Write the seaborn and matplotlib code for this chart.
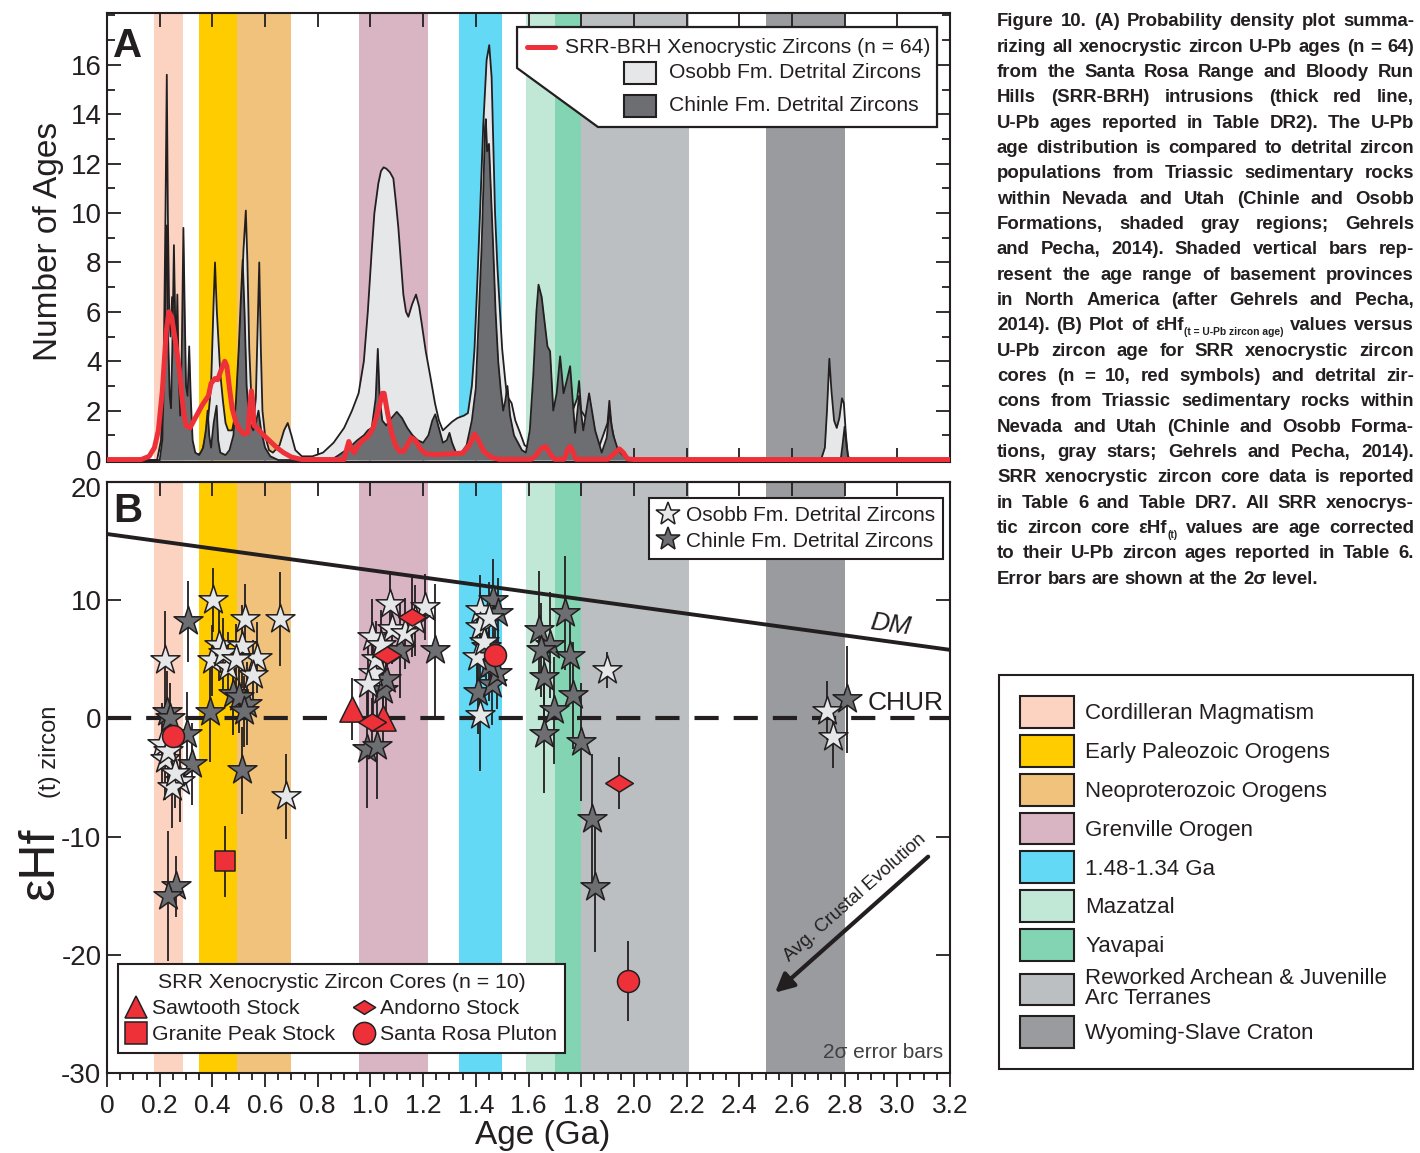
import matplotlib
matplotlib.use("Agg")
import numpy as np
import pandas as pd
import seaborn as sns
import matplotlib.pyplot as plt
from matplotlib.lines import Line2D
from matplotlib.patches import Patch, Polygon, Rectangle
from matplotlib.ticker import MultipleLocator, NullLocator
from matplotlib.transforms import ScaledTranslation
from matplotlib import font_manager

W_PX, H_PX = 1420, 1153
EDGE = "#231F20"
LIGHT = "#E6E7E8"
DARK = "#6D6E71"
RED = "#EE3139"

# basement provinces of North America (age ranges, Ga)
prov_names = ["Cordilleran Magmatism", "Early Paleozoic Orogens", "Neoproterozoic Orogens",
              "Grenville Orogen", "1.48-1.34 Ga", "Mazatzal", "Yavapai",
              "Reworked Archean & Juvenille\nArc Terranes", "Wyoming-Slave Craton"]
prov_start = [0.18, 0.35, 0.495, 0.955, 1.335, 1.59, 1.70, 1.80, 2.50]
prov_end = [0.29, 0.495, 0.70, 1.22, 1.50, 1.70, 1.80, 2.21, 2.80]
prov_colors = ["#FCD3C1", "#FFCC00", "#F0C27B", "#D9B4C2", "#63D9F6",
               "#C1E8D6", "#83D4B2", "#BCBFC2", "#999B9E"]

# panel A: probability density curves (age Ga, number of ages)
osobb_pdp = [(0.0, 0), (0.19, 0), (0.205, 0.8), (0.215, 3.5), (0.222, 10), (0.227, 15.6),
             (0.231, 10), (0.236, 6), (0.241, 5.0), (0.247, 6.6), (0.253, 4.0), (0.26, 2.5),
             (0.27, 1.8), (0.28, 1.5), (0.30, 1.0), (0.32, 0.5), (0.34, 0.2), (0.36, 0.3),
             (0.38, 1.2), (0.395, 3.0), (0.405, 6.5), (0.41, 8.0), (0.417, 6.0), (0.43, 3.5),
             (0.44, 2.4), (0.45, 1.5), (0.46, 1.2), (0.475, 1.2), (0.49, 2.0), (0.505, 5.0),
             (0.518, 8.5), (0.527, 10.1), (0.533, 8.0), (0.54, 4.5), (0.548, 2.5), (0.556, 1.6),
             (0.565, 2.5), (0.572, 5.5), (0.578, 8.0), (0.584, 4.5), (0.59, 2.0), (0.60, 1.0),
             (0.615, 0.4), (0.63, 0.3), (0.655, 0.6), (0.672, 1.2), (0.686, 1.5), (0.70, 1.0),
             (0.715, 0.4), (0.74, 0.15), (0.78, 0.15), (0.82, 0.3), (0.86, 0.7), (0.90, 1.3),
             (0.93, 2.0), (0.955, 2.7), (0.975, 4.0), (0.99, 6.0), (1.005, 8.5), (1.015, 10.0),
             (1.03, 11.2), (1.04, 11.7), (1.05, 11.85), (1.06, 11.8), (1.074, 11.65),
             (1.087, 11.4), (1.097, 10.4), (1.106, 9.4), (1.116, 8.0), (1.125, 6.7),
             (1.135, 6.0), (1.144, 5.8), (1.158, 6.3), (1.173, 6.7), (1.185, 6.2), (1.195, 5.5),
             (1.21, 4.4), (1.227, 3.4), (1.245, 2.3), (1.26, 1.6), (1.275, 1.2), (1.29, 1.35),
             (1.31, 1.55), (1.33, 1.7), (1.355, 1.8), (1.37, 1.9), (1.385, 3.0), (1.395, 4.5),
             (1.405, 7.0), (1.416, 10.0), (1.428, 13.5), (1.441, 16.2), (1.451, 16.8),
             (1.46, 15.5), (1.466, 13.0), (1.473, 10.0), (1.482, 7.8), (1.492, 6.0), (1.50, 4.5),
             (1.511, 3.3), (1.518, 2.6), (1.536, 2.3), (1.55, 1.6), (1.568, 1.1), (1.585, 0.6),
             (1.60, 0.5), (1.62, 1.0), (1.66, 1.4), (1.70, 1.2), (1.75, 1.5), (1.785, 2.5),
             (1.792, 3.2), (1.80, 2.0), (1.83, 1.5), (1.87, 0.6), (1.90, 1.5), (1.907, 2.4),
             (1.915, 1.4), (1.93, 0.6), (1.95, 0.25), (1.98, 0.05), (2.0, 0), (2.71, 0),
             (2.725, 0.5), (2.733, 2.0), (2.742, 4.1), (2.75, 2.8), (2.76, 1.6), (2.77, 1.3),
             (2.78, 1.7), (2.79, 2.5), (2.797, 2.3), (2.805, 1.0), (2.812, 0.2), (2.82, 0),
             (3.2, 0)]
chinle_pdp = [(0.0, 0), (0.20, 0), (0.21, 0.8), (0.218, 4.0), (0.223, 8.0), (0.227, 9.5),
              (0.232, 5.0), (0.238, 2.6), (0.243, 2.1), (0.248, 4.5), (0.254, 8.7), (0.259, 5.5),
              (0.263, 4.5), (0.267, 6.7), (0.272, 3.5), (0.278, 1.8), (0.284, 4.5), (0.29, 9.4),
              (0.295, 6.0), (0.30, 3.0), (0.306, 2.6), (0.312, 4.6), (0.318, 2.5), (0.325, 0.8),
              (0.335, 0.3), (0.35, 0.2), (0.365, 0.5), (0.375, 1.2), (0.382, 2.0), (0.388, 1.0),
              (0.395, 0.5), (0.405, 1.5), (0.416, 2.2), (0.422, 0.8), (0.43, 0.3), (0.45, 0.2),
              (0.465, 0.4), (0.48, 1.0), (0.49, 2.5), (0.50, 4.5), (0.508, 6.5), (0.515, 8.1),
              (0.522, 6.0), (0.53, 3.0), (0.54, 1.6), (0.555, 1.2), (0.565, 1.5), (0.575, 2.0),
              (0.585, 1.2), (0.60, 0.5), (0.62, 0.15), (0.65, 0), (0.85, 0), (0.88, 0.2),
              (0.92, 0.5), (0.95, 0.8), (0.975, 1.0), (0.99, 1.2), (1.005, 1.3), (1.02, 2.5),
              (1.028, 4.5), (1.035, 2.5), (1.045, 1.6), (1.06, 1.4), (1.08, 1.7), (1.10, 1.95),
              (1.12, 1.7), (1.14, 1.3), (1.16, 1.0), (1.18, 0.8), (1.20, 0.7), (1.22, 1.0),
              (1.235, 1.6), (1.246, 1.85), (1.26, 1.3), (1.275, 0.7), (1.29, 0.8), (1.30, 1.1),
              (1.31, 0.7), (1.325, 0.3), (1.345, 0.3), (1.365, 0.6), (1.385, 1.6), (1.40, 2.9),
              (1.412, 6.0), (1.422, 8.6), (1.43, 11.5), (1.435, 13.5), (1.438, 13.8),
              (1.443, 12.5), (1.45, 12.8), (1.455, 11.5), (1.466, 8.6), (1.475, 6.0),
              (1.485, 4.0), (1.495, 2.8), (1.504, 2.0), (1.512, 2.4), (1.52, 3.0), (1.53, 1.8),
              (1.545, 1.0), (1.555, 0.8), (1.575, 0.4), (1.59, 0.3), (1.605, 1.2), (1.618, 3.4),
              (1.63, 6.0), (1.638, 7.1), (1.65, 6.6), (1.663, 5.4), (1.672, 4.6), (1.682, 4.4),
              (1.694, 2.0), (1.707, 2.7), (1.72, 4.2), (1.733, 2.7), (1.745, 3.2), (1.758, 3.8),
              (1.777, 1.1), (1.792, 2.6), (1.808, 1.2), (1.83, 2.7), (1.853, 1.2), (1.878, 0.3),
              (1.897, 0.9), (1.907, 2.0), (1.916, 1.35), (1.922, 1.0), (1.94, 0.4),
              (1.967, 0.1), (1.99, 0), (2.785, 0), (2.792, 0.6), (2.80, 1.35), (2.807, 0.6),
              (2.815, 0), (3.2, 0)]
srr_pdp = [(0.0, 0.02), (0.13, 0.02), (0.16, 0.15), (0.18, 0.5), (0.195, 1.2), (0.21, 2.8),
           (0.225, 5.2), (0.235, 6.0), (0.245, 5.8), (0.26, 4.8), (0.275, 3.6), (0.29, 2.0),
           (0.30, 1.4), (0.315, 1.3), (0.335, 1.7), (0.36, 2.2), (0.385, 2.6), (0.395, 3.1),
           (0.41, 3.3), (0.42, 3.25), (0.435, 3.7), (0.447, 4.0), (0.455, 3.8), (0.465, 2.9),
           (0.475, 2.1), (0.49, 1.5), (0.505, 1.2), (0.52, 1.05), (0.535, 1.1), (0.542, 2.2),
           (0.548, 2.8), (0.553, 2.4), (0.558, 1.4), (0.57, 1.3), (0.59, 1.05), (0.62, 0.75),
           (0.645, 0.5), (0.67, 0.3), (0.70, 0.12), (0.74, 0.02), (0.90, 0.02), (0.91, 0.45),
           (0.918, 0.75), (0.928, 0.45), (0.938, 0.3), (0.95, 0.55), (0.97, 0.8), (0.99, 0.95),
           (1.01, 1.3), (1.03, 2.0), (1.045, 2.7), (1.052, 2.7), (1.065, 1.9), (1.08, 1.1),
           (1.095, 0.6), (1.11, 0.35), (1.125, 0.35), (1.14, 0.6), (1.155, 0.9), (1.17, 0.8),
           (1.19, 0.45), (1.21, 0.25), (1.25, 0.22), (1.30, 0.25), (1.35, 0.28), (1.375, 0.6),
           (1.395, 1.05), (1.41, 0.8), (1.43, 0.35), (1.46, 0.1), (1.49, 0.03), (1.61, 0.03),
           (1.63, 0.2), (1.645, 0.45), (1.665, 0.55), (1.685, 0.2), (1.70, 0.03), (1.735, 0.03),
           (1.748, 0.4), (1.758, 0.55), (1.768, 0.35), (1.78, 0.03), (1.90, 0.03), (1.925, 0.25),
           (1.945, 0.45), (1.96, 0.3), (1.975, 0.05), (2.0, 0.02), (3.2, 0.02)]

# panel B: eHf(t) vs age (age Ga, eHf, 2 sigma)
osobb_hf = [(0.220, 4.9, 4.2), (0.208, -2.2, 3.5), (0.220, -3.4, 3.5), (0.232, -2.8, 3.0),
            (0.277, -5.3, 3.5), (0.245, -5.8, 3.5), (0.258, -4.6, 3.0), (0.401, 10.0, 2.7),
            (0.524, 8.4, 3.0), (0.657, 8.4, 4.0), (0.425, 6.2, 3.0), (0.511, 6.1, 3.5),
            (0.397, 4.9, 3.0), (0.461, 4.35, 3.0), (0.568, 5.15, 3.0), (0.556, 3.65, 3.0),
            (0.44, 5.5, 3.0), (0.49, 5.0, 3.0), (0.680, -6.6, 3.6), (1.074, 9.7, 2.8),
            (1.207, 9.4, 2.8), (1.081, 7.6, 3.0), (1.131, 7.2, 3.0), (1.169, 8.3, 3.0),
            (1.005, 6.9, 3.2), (1.011, 3.8, 3.5), (0.992, 2.9, 3.5), (1.02, 5.0, 3.2),
            (1.04, 6.2, 3.0), (1.416, 9.15, 3.0), (1.416, 7.7, 3.0), (1.404, 5.2, 3.5),
            (1.43, 6.5, 3.0), (1.416, 0.25, 4.7), (1.45, 8.5, 3.0), (1.897, 4.1, 1.5),
            (2.732, 0.66, 2.5), (2.757, -1.6, 2.6)]
chinle_hf = [(0.309, 8.2, 3.4), (0.227, 0.55, 3.5), (0.24, 0.0, 3.0), (0.391, 0.55, 4.2),
             (0.48, 2.1, 3.5), (0.53, 1.25, 3.5), (0.50, 1.8, 3.0), (0.52, 0.6, 3.0),
             (0.303, -1.3, 3.5), (0.321, -3.85, 3.5), (0.511, -4.4, 3.7), (0.262, -14.2, 2.6),
             (0.233, -15.0, 5.5), (1.245, 5.76, 5.6), (1.112, 5.76, 4.0), (1.049, 2.4, 3.5),
             (0.986, -2.6, 5.0), (1.024, -2.3, 4.5), (1.06, 3.3, 3.0), (1.467, 10.0, 3.5),
             (1.486, 8.9, 3.0), (1.41, 2.2, 3.5), (1.46, 2.9, 3.5), (1.48, 3.8, 3.0),
             (1.45, 4.5, 3.0), (1.44, 6.0, 3.0), (1.638, 7.45, 5.0), (1.739, 8.9, 4.8),
             (1.682, 6.2, 4.5), (1.758, 5.3, 4.0), (1.657, 3.5, 4.0), (1.770, 1.95, 4.5),
             (1.695, 0.68, 4.5), (1.657, -1.3, 5.0), (1.80, -2.0, 5.0), (1.84, -8.5, 5.5),
             (1.853, -14.3, 5.5), (1.648, 5.8, 4.0), (2.808, 1.6, 4.5)]
stock_names = ["Sawtooth Stock", "Granite Peak Stock", "Andorno Stock", "Santa Rosa Pluton"]
srr_stock = ["Sawtooth Stock", "Sawtooth Stock", "Granite Peak Stock", "Andorno Stock",
             "Andorno Stock", "Andorno Stock", "Andorno Stock", "Santa Rosa Pluton",
             "Santa Rosa Pluton", "Santa Rosa Pluton"]
srr_hf_age = [0.929, 1.049, 0.448, 1.005, 1.062, 1.157, 1.945, 0.249, 1.473, 1.978]
srr_hf = [0.8, 0.0, -12.1, -0.3, 5.4, 8.6, -5.45, -1.5, 5.4, -22.2]
srr_hf_err = [2.6, 2.5, 3.0, 2.0, 2.5, 3.4, 2.2, 2.0, 2.5, 3.4]
dm_age = [0.0, 3.2]
dm_hf = [15.6, 5.8]

caption_lines = [
    "Figure 10. (A) Probability density plot summa-",
    "rizing all xenocrystic zircon U-Pb ages (n = 64)",
    "from the Santa Rosa Range and Bloody Run",
    "Hills (SRR-BRH) intrusions (thick red line,",
    "U-Pb ages reported in Table DR2). The U-Pb",
    "age distribution is compared to detrital zircon",
    "populations from Triassic sedimentary rocks",
    "within Nevada and Utah (Chinle and Osobb",
    "Formations, shaded gray regions; Gehrels",
    "and Pecha, 2014). Shaded vertical bars rep-",
    "resent the age range of basement provinces",
    "in North America (after Gehrels and Pecha,",
    ["2014).", "(B)", "Plot", "of", ("εHf", "(t = U-Pb zircon age)"), "values", "versus"],
    "U-Pb zircon age for SRR xenocrystic zircon",
    "cores (n = 10, red symbols) and detrital zir-",
    "cons from Triassic sedimentary rocks within",
    "Nevada and Utah (Chinle and Osobb Forma-",
    "tions, gray stars; Gehrels and Pecha, 2014).",
    "SRR xenocrystic zircon core data is reported",
    "in Table 6 and Table DR7. All SRR xenocrys-",
    ["tic", "zircon", "core", ("εHf", "(t)"), "values", "are", "age", "corrected"],
    "to their U-Pb zircon ages reported in Table 6.",
    "Error bars are shown at the 2σ level.",
]

osobb_age, osobb_n = map(list, zip(*osobb_pdp))
chinle_age, chinle_n = map(list, zip(*chinle_pdp))
srr_age, srr_n = map(list, zip(*srr_pdp))
osobb_df = pd.DataFrame(osobb_hf, columns=["age", "hf", "err"])
chinle_df = pd.DataFrame(chinle_hf, columns=["age", "hf", "err"])
srr_df = pd.DataFrame({"age": srr_hf_age, "hf": srr_hf, "err": srr_hf_err, "stock": srr_stock})


def has_font(name):
    try:
        font_manager.findfont(font_manager.FontProperties(family=name), fallback_to_default=False)
        return True
    except ValueError:
        return False


CAP_FAMILY = "Liberation Sans Narrow" if has_font("Liberation Sans Narrow") else "Liberation Sans"

sns.set_style("ticks")
plt.rcParams["font.family"] = ["Liberation Sans", "DejaVu Sans"]
plt.rcParams["axes.unicode_minus"] = False
plt.rcParams["axes.linewidth"] = 1.5
plt.rcParams["axes.edgecolor"] = EDGE
for k in ["text.color", "axes.labelcolor", "xtick.color", "ytick.color"]:
    plt.rcParams[k] = EDGE

fig = plt.figure(figsize=(14.2, 11.53), dpi=100)


def px_axes(l, t, r, b):
    return fig.add_axes([l / W_PX, 1 - b / H_PX, (r - l) / W_PX, (b - t) / H_PX])


axA = px_axes(107, 13, 950, 462)
axB = px_axes(107, 482, 950, 1073)
for ax in (axA, axB):
    for s, e, c in zip(prov_start, prov_end, prov_colors):
        ax.axvspan(s, e, color=c, lw=0, zorder=0)

# ---------- panel A ----------
axA.fill_between(osobb_age, osobb_n, 0, color=LIGHT, lw=0, zorder=2)
sns.lineplot(x=osobb_age, y=osobb_n, ax=axA, color=EDGE, lw=1.3, sort=False, estimator=None, zorder=3)
axA.fill_between(chinle_age, chinle_n, 0, color=DARK, lw=0, zorder=4)
sns.lineplot(x=chinle_age, y=chinle_n, ax=axA, color=EDGE, lw=1.3, sort=False, estimator=None, zorder=5)
sns.lineplot(x=srr_age, y=srr_n, ax=axA, color=RED, lw=3.6, sort=False, estimator=None, zorder=6)

axA.set_xlim(0, 3.2)
axA.set_ylim(-0.08, 18.1)
axA.set_xticks(np.arange(0, 3.21, 0.2))
axA.set_xticklabels([])
axA.set_yticks(range(0, 17, 2))
axA.yaxis.set_minor_locator(MultipleLocator(1))
axA.tick_params(which="both", direction="in", top=True, right=True, labelsize=20, width=1.3, pad=4)
axA.tick_params(which="major", length=10)
axA.tick_params(which="minor", length=6)
axA.set_xlabel("")
axA.set_ylabel("Number of Ages", fontsize=24)
axA.yaxis.set_label_coords(-0.051, 0.492)
axA.text(0.007, 0.926, "A", transform=axA.transAxes, fontsize=29, fontweight="bold",
         va="center", ha="left", zorder=12)

# custom legend box for panel A
legA = Polygon([(0.4864, 0.9688), (0.9846, 0.9688), (0.9846, 0.7461), (0.5824, 0.7461),
                (0.4864, 0.8775)], closed=True, transform=axA.transAxes, fc="white", ec=EDGE,
               lw=1.6, zorder=10)
axA.add_patch(legA)
axA.add_line(Line2D([0.498, 0.531], [0.924, 0.924], transform=axA.transAxes, color=RED, lw=3.6, zorder=11))
axA.text(0.5433, 0.924, "SRR-BRH Xenocrystic Zircons (n = 64)", transform=axA.transAxes,
         fontsize=15.2, va="center", ha="left", zorder=11)
axA.add_patch(Rectangle((0.6133, 0.8419), 0.0379, 0.049, transform=axA.transAxes,
                        fc=LIGHT, ec=EDGE, lw=1.5, zorder=11))
axA.add_patch(Rectangle((0.6133, 0.7684), 0.0379, 0.049, transform=axA.transAxes,
                        fc=DARK, ec=EDGE, lw=1.5, zorder=11))
axA.text(0.6667, 0.8664, "Osobb Fm. Detrital Zircons", transform=axA.transAxes,
         fontsize=15.2, va="center", ha="left", zorder=11)
axA.text(0.6667, 0.7929, "Chinle Fm. Detrital Zircons", transform=axA.transAxes,
         fontsize=15.2, va="center", ha="left", zorder=11)

# ---------- panel B ----------
sns.lineplot(x=dm_age, y=dm_hf, ax=axB, color=EDGE, lw=2.8, zorder=3)
axB.axhline(0, color=EDGE, lw=3, dashes=(5.8, 3.6), zorder=3)

for df in (chinle_df, osobb_df, srr_df):
    axB.errorbar(df["age"], df["hf"], yerr=df["err"], fmt="none", ecolor=EDGE,
                 elinewidth=1.3, zorder=4)

sns.scatterplot(data=chinle_df, x="age", y="hf", ax=axB, marker="*", s=480, color=DARK,
                edgecolor=EDGE, linewidth=1.1, zorder=5, legend=False)
sns.scatterplot(data=osobb_df, x="age", y="hf", ax=axB, marker="*", s=480, color=LIGHT,
                edgecolor=EDGE, linewidth=1.1, zorder=6, legend=False)

wide_diamond = [(-1, 0), (0, 0.62), (1, 0), (0, -0.62), (-1, 0)]
stock_markers = {"Sawtooth Stock": "^", "Granite Peak Stock": "s",
                 "Andorno Stock": wide_diamond, "Santa Rosa Pluton": "o"}
stock_sizes = {"Sawtooth Stock": 330, "Granite Peak Stock": 210,
               "Andorno Stock": 400, "Santa Rosa Pluton": 250}
for name in stock_names:
    sub = srr_df[srr_df["stock"] == name]
    sns.scatterplot(data=sub, x="age", y="hf", ax=axB, marker=stock_markers[name],
                    s=stock_sizes[name], color=RED, edgecolor=EDGE, linewidth=1.1,
                    zorder=7, legend=False)

axB.set_xlim(0, 3.2)
axB.set_ylim(-30, 20)
axB.set_yticks(range(-30, 21, 10))
axB.yaxis.set_minor_locator(NullLocator())
xt = np.round(np.arange(0, 3.21, 0.2), 1)
axB.set_xticks(xt)
axB.set_xticklabels(["0"] + [f"{v:.1f}" for v in xt[1:]])
axB.xaxis.set_minor_locator(MultipleLocator(0.05))
axB.tick_params(axis="y", which="both", direction="in", left=True, right=True,
                length=10, width=1.3, labelsize=20, pad=4)
axB.tick_params(axis="x", which="both", direction="out", top=False, bottom=True,
                width=1.3, labelsize=19, pad=5)
axB.tick_params(axis="x", which="major", length=10)
axB.tick_params(axis="x", which="minor", length=5)
secB = axB.secondary_xaxis("top")
secB.set_xticks(xt)
secB.tick_params(axis="x", direction="in", length=10, width=1.3, labeltop=False)
axB.set_ylabel("")
axB.set_xlabel("Age (Ga)", fontsize=24)
axB.xaxis.set_label_coords(0.517, -0.08)
# nudge the top "20" label down, clear of panel A's "0"
top_lab = axB.get_yticklabels()[-1]
top_lab.set_transform(top_lab.get_transform() + ScaledTranslation(0, -5 / 100, fig.dpi_scale_trans))

fig.text(40 / W_PX, 1 - 864 / H_PX, "εHf", rotation=90, fontsize=36, ha="center", va="center")
fig.text(50 / W_PX, 1 - 752 / H_PX, "(t) zircon", rotation=90, fontsize=17, ha="center", va="center")

axB.text(0.007, 0.951, "B", transform=axB.transAxes, fontsize=29, fontweight="bold",
         va="center", ha="left", zorder=12)
axB.text(2.973, 7.9, "DM", fontsize=19, style="italic", rotation=-7.8, ha="center", va="center")
axB.text(2.889, 1.3, "CHUR", fontsize=19, ha="left", va="center")
axB.text(0.9917, 0.0355, "2σ error bars", transform=axB.transAxes, fontsize=15,
         color="#414042", ha="right", va="center")
axB.annotate("", xy=(2.536, -23.2), xytext=(3.117, -11.7),
             arrowprops=dict(arrowstyle="-|>", color=EDGE, lw=3, mutation_scale=28,
                             shrinkA=0, shrinkB=0))
axB.text(2.84, -15.2, "Avg. Crustal Evolution", fontsize=13.5, rotation=41.6,
         rotation_mode="anchor", ha="center", va="center")

red_handles = [Line2D([], [], ls="", marker=stock_markers[n], ms=16, mfc=RED, mec=EDGE, mew=1.1)
               for n in stock_names]
legR = axB.legend(red_handles, stock_names, ncol=2, title="SRR Xenocrystic Zircon Cores (n = 10)",
                  loc="lower left", bbox_to_anchor=(0.013, 0.034), borderaxespad=0,
                  fontsize=15.3, title_fontsize=15.3, frameon=True, fancybox=False,
                  edgecolor=EDGE, framealpha=1, handlelength=0.9, handletextpad=0.3,
                  columnspacing=0.9, labelspacing=0.35, borderpad=0.4)
legR.get_frame().set_linewidth(1.5)
legR.set_zorder(20)
axB.add_artist(legR)

star_handles = [Line2D([], [], ls="", marker="*", ms=18, mfc=LIGHT, mec=EDGE, mew=1.1),
                Line2D([], [], ls="", marker="*", ms=18, mfc=DARK, mec=EDGE, mew=1.1)]
legS = axB.legend(star_handles, ["Osobb Fm. Detrital Zircons", "Chinle Fm. Detrital Zircons"],
                  loc="upper right", bbox_to_anchor=(0.9917, 0.9729), borderaxespad=0,
                  fontsize=15, frameon=True, fancybox=False, edgecolor=EDGE, framealpha=1,
                  handlelength=1.0, handletextpad=0.35, borderpad=0.4, labelspacing=0.3)
legS.get_frame().set_linewidth(1.5)
legS.set_zorder(20)

# ---------- province legend ----------
prov_handles = [Patch(facecolor=c, edgecolor=EDGE, linewidth=1.5) for c in prov_colors]
legP = fig.legend(prov_handles, prov_names, loc="upper left",
                  bbox_to_anchor=(999 / W_PX, 1 - 675 / H_PX, 414 / W_PX, 0), mode="expand",
                  borderaxespad=0, fontsize=16, handlelength=2.43, handleheight=1.82,
                  handletextpad=0.5, borderpad=0.95, labelspacing=0.32, frameon=True,
                  fancybox=False, edgecolor=EDGE, framealpha=1)
legP.get_frame().set_linewidth(1.5)
for t in legP.get_texts():
    t.set_linespacing(0.95)

# ---------- caption (justified) ----------
renderer = fig.canvas.get_renderer()
CAP_X0, CAP_X1 = 997, 1414


def cap_text(s, size):
    return fig.text(0, 0, s, fontsize=size, fontweight="bold",
                    family=[CAP_FAMILY, "DejaVu Sans"], va="baseline", ha="left")


def text_w(t):
    return t.get_window_extent(renderer).width


probe = []
maxw = 0
for line in caption_lines:
    if isinstance(line, str):
        t = cap_text(line, 10)
        maxw = max(maxw, text_w(t))
        probe.append(t)
for t in probe:
    t.remove()
cap_size = 10 * (CAP_X1 - CAP_X0) * 0.99 / maxw
sub_size = cap_size * 0.55

t1, t2 = cap_text("a a", cap_size), cap_text("aa", cap_size)
space_w = text_w(t1) - text_w(t2)
t1.remove()
t2.remove()

for i, line in enumerate(caption_lines):
    words = line.split() if isinstance(line, str) else line
    base_px = 26.5 + i * 25.32
    items = []
    for w in words:
        if isinstance(w, tuple):
            a = cap_text(w[0], cap_size)
            b = cap_text(w[1], sub_size)
            items.append(([(a, 0, 0), (b, text_w(a), 5)], text_w(a) + text_w(b)))
        else:
            a = cap_text(w, cap_size)
            items.append(([(a, 0, 0)], text_w(a)))
    total = sum(it[1] for it in items)
    last = i == len(caption_lines) - 1
    gap = space_w if last or len(items) < 2 else (CAP_X1 - CAP_X0 - total) / (len(items) - 1)
    x = CAP_X0
    for parts, wdt in items:
        for t, dx, dy in parts:
            t.set_position(((x + dx) / W_PX, 1 - (base_px + dy) / H_PX))
        x += wdt + gap

fig.savefig("out.png", dpi=100)
